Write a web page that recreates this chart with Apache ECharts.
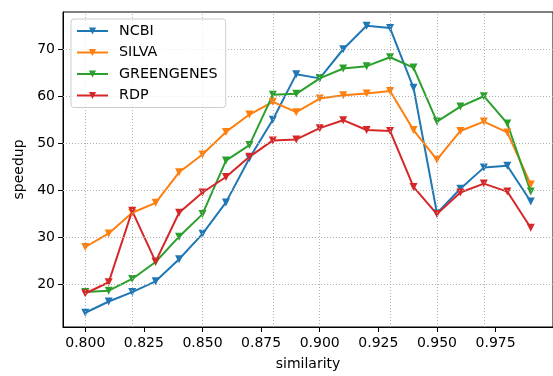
<!DOCTYPE html>
<html>
<head>
<meta charset="utf-8">
<script src="https://cdn.jsdelivr.net/npm/echarts@6/dist/echarts.min.js"></script>
<style>
  html, body { margin: 0; padding: 0; background: #ffffff; }
  #chart { width: 553px; height: 376px; }
</style>
</head>
<body>
<div id="chart"></div>
<script>
// Similarity thresholds on the x axis
const similarity = [0.80, 0.81, 0.82, 0.83, 0.84, 0.85, 0.86, 0.87, 0.88, 0.89,
                    0.90, 0.91, 0.92, 0.93, 0.94, 0.95, 0.96, 0.97, 0.98, 0.99];

// Speedup per reference database
const ncbi       = [13.9, 16.3, 18.3, 20.6, 25.3, 30.7, 37.4, 46.8, 55.0, 64.7,
                    63.8, 70.0, 75.0, 74.5, 61.8, 35.1, 40.3, 44.8, 45.2, 37.6];
const silva      = [27.9, 30.8, 35.2, 37.3, 43.8, 47.6, 52.4, 56.1, 58.8, 56.6,
                    59.5, 60.2, 60.6, 61.1, 52.8, 46.5, 52.6, 54.6, 52.3, 41.2];
const greengenes = [18.3, 18.6, 21.1, 24.7, 30.1, 34.9, 46.3, 49.6, 60.3, 60.5,
                    63.8, 65.9, 66.4, 68.3, 66.1, 54.6, 57.8, 60.0, 54.2, 39.7];
const rdp        = [18.0, 20.4, 35.6, 24.8, 35.2, 39.5, 42.8, 47.1, 50.6, 50.8,
                    53.2, 54.9, 52.8, 52.6, 40.7, 34.9, 39.5, 41.4, 39.7, 32.0];

const seriesNames = ['NCBI', 'SILVA', 'GREENGENES', 'RDP'];
const seriesData = [ncbi, silva, greengenes, rdp];
const seriesColors = ['#1f77b4', '#ff7f0e', '#2ca02c', '#d62728'];

// Tick labels
const xTicks = [0.800, 0.825, 0.850, 0.875, 0.900, 0.925, 0.950, 0.975];
const yTicks = [20, 30, 40, 50, 60, 70];

const font = 'DejaVu Sans';

const chart = echarts.init(document.getElementById('chart'), null, { renderer: 'canvas' });

// Dotted grid lines at the tick positions, drawn beneath the data lines
const gridLineSeries = {
  name: 'gridlines',
  type: 'line',
  data: [],
  z: 0,
  silent: true,
  animation: false,
  markLine: {
    silent: true,
    symbol: ['none', 'none'],
    label: { show: false },
    animation: false,
    lineStyle: { color: '#b0b0b0', width: 1, type: [1, 2] },
    emphasis: { disabled: true },
    data: xTicks.map(v => ({ xAxis: v })).concat(yTicks.map(v => ({ yAxis: v })))
  }
};

const series = [gridLineSeries].concat(seriesNames.map((name, i) => ({
  name: name,
  type: 'line',
  data: similarity.map((x, j) => [x, seriesData[i][j]]),
  z: 3,
  symbol: 'triangle',
  symbolRotate: 180,
  symbolSize: 8,
  showSymbol: true,
  lineStyle: { width: 2, color: seriesColors[i] },
  itemStyle: { color: seriesColors[i] },
  emphasis: { disabled: true },
  animation: false
})));

chart.setOption({
  animation: false,
  grid: {
    left: 63, top: 12, width: 491, height: 318,
    show: true, borderColor: '#000000', borderWidth: 1, backgroundColor: 'transparent'
  },
  legend: {
    orient: 'vertical',
    left: 71, top: 19,
    data: seriesNames,
    itemWidth: 31,
    itemHeight: 9,
    itemGap: 7.5,
    padding: [5, 8, 5, 5],
    backgroundColor: 'rgba(255,255,255,0.8)',
    borderColor: '#cccccc',
    borderWidth: 1,
    borderRadius: 3,
    z: 10,
    textStyle: { fontFamily: font, fontSize: 14.3, color: '#000000', padding: [0, 0, 0, 6], lineHeight: 14 }
  },
  xAxis: {
    type: 'value',
    min: 0.7905,
    max: 0.9995,
    name: 'similarity',
    nameLocation: 'middle',
    nameGap: 30,
    nameTextStyle: { fontFamily: font, fontSize: 14, color: '#000000' },
    axisLine: { show: true, onZero: false, lineStyle: { color: '#000000', width: 1 } },
    axisTick: { show: true, inside: false, length: 5, lineStyle: { color: '#000000' }, customValues: xTicks },
    axisLabel: {
      fontFamily: font, fontSize: 14, color: '#000000', margin: 9,
      customValues: xTicks,
      formatter: v => v.toFixed(3)
    },
    splitLine: { show: false }
  },
  yAxis: {
    type: 'value',
    min: 10.87,
    max: 77.93,
    name: 'speedup',
    nameLocation: 'middle',
    nameGap: 31,
    nameRotate: 90,
    nameTextStyle: { fontFamily: font, fontSize: 14, color: '#000000' },
    axisLine: { show: true, onZero: false, lineStyle: { color: '#000000', width: 1 } },
    axisTick: { show: true, inside: false, length: 5, lineStyle: { color: '#000000' }, customValues: yTicks },
    axisLabel: {
      fontFamily: font, fontSize: 14, color: '#000000', margin: 8,
      customValues: yTicks
    },
    splitLine: { show: false }
  },
  series: series
});
</script>
</body>
</html>
